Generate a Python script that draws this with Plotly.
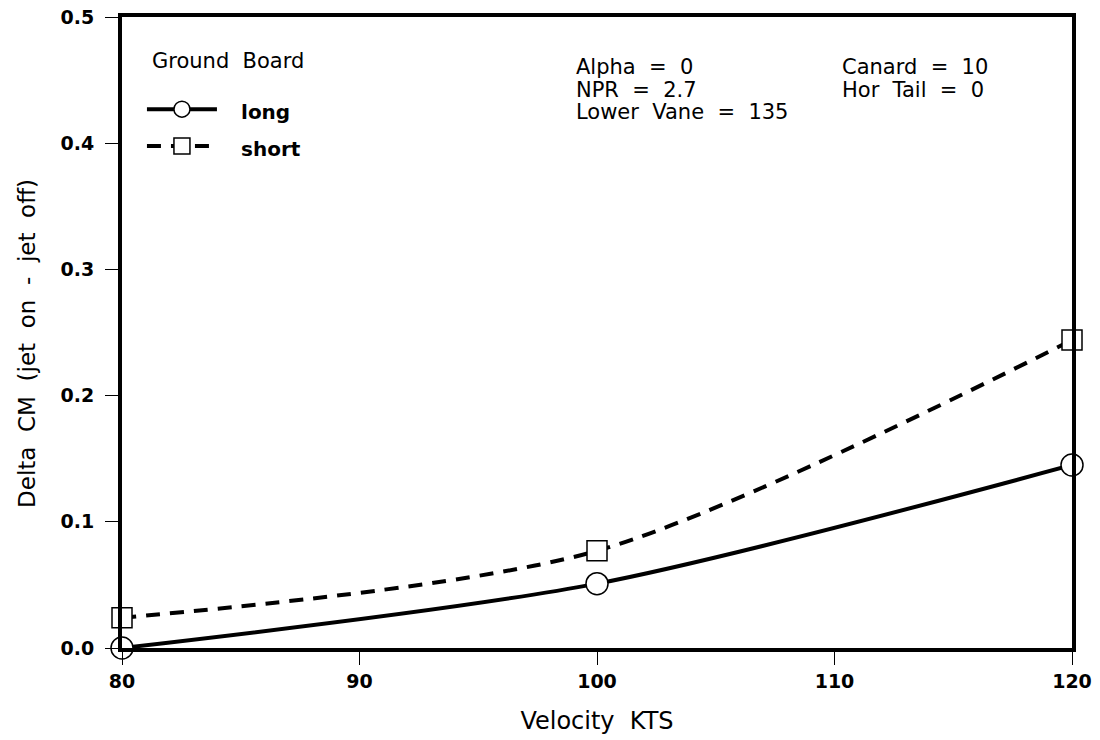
import plotly.graph_objects as go

velocity = [80, 100, 120]
long_cm = [0.0, 0.051, 0.145]
short_cm = [0.024, 0.077, 0.244]
x_ticks = [80, 90, 100, 110, 120]
y_ticks = [0.0, 0.1, 0.2, 0.3, 0.4, 0.5]

FONT = "DejaVu Sans, Verdana, sans-serif"
NB = "&nbsp;"

fig = go.Figure()
fig.add_trace(go.Scatter(
    x=velocity, y=long_cm, mode="lines+markers",
    name=f"<span style='font-size:20px'>{NB*3}<b>long</b></span>",
    line=dict(color="black", width=4, shape="spline", smoothing=0.8),
    marker=dict(symbol="circle", size=22, color="white", line=dict(color="black", width=1.5)),
    cliponaxis=False,
))
fig.add_trace(go.Scatter(
    x=velocity, y=short_cm, mode="lines+markers",
    name=f"<span style='font-size:20px'>{NB*3}<b>short</b></span>",
    line=dict(color="black", width=4, dash="14px,10px", shape="spline", smoothing=0.8),
    marker=dict(symbol="square", size=20, color="white", line=dict(color="black", width=1.5)),
    cliponaxis=False,
))

ann = []
def txt(s, x, y):
    ann.append(dict(text=s, x=x, y=y, xref="paper", yref="paper", xanchor="left",
                    yanchor="middle", showarrow=False, font=dict(size=21, color="black", family=FONT)))
txt("Ground  Board", 0.029, 0.930)
txt("Alpha  =  0", 0.476, 0.921)
txt("NPR  =  2.7", 0.476, 0.885)
txt("Lower  Vane  =  135", 0.476, 0.849)
txt("Canard  =  10", 0.756, 0.921)
txt("Hor  Tail  =  0", 0.756, 0.885)

fig.update_layout(
    width=1100, height=740,
    margin=dict(l=122, r=28, t=17, b=92),
    paper_bgcolor="white", plot_bgcolor="white",
    font=dict(family=FONT, color="black"),
    showlegend=True,
    legend=dict(
        x=0.021, y=0.891, xanchor="left", yanchor="top",
        font=dict(size=26), itemwidth=70, bgcolor="rgba(0,0,0,0)",
    ),
    annotations=ann,
    xaxis=dict(
        range=[80, 120], tickvals=x_ticks, ticktext=[f"<b>{v}</b>" for v in x_ticks],
        showgrid=False, zeroline=False, showline=True, linecolor="black", linewidth=4, mirror=True,
        ticks="outside", ticklen=13, tickwidth=1, tickcolor="black", automargin=False,
        tickfont=dict(size=19), title=dict(text="Velocity  KTS", font=dict(size=24), standoff=22),
    ),
    yaxis=dict(
        range=[0, 0.5], tickvals=y_ticks, ticktext=[f"<b>{v:.1f}</b>" for v in y_ticks],
        showgrid=False, zeroline=False, showline=True, linecolor="black", linewidth=4, mirror=True,
        ticks="outside", ticklen=13, tickwidth=1, tickcolor="black", ticklabelstandoff=7,
        tickfont=dict(size=19), automargin=False,
        title=dict(text="Delta  CM  (jet  on  -  jet  off)" + NB * 3, font=dict(size=23), standoff=19),
    ),
)
fig.write_html("out.html")
